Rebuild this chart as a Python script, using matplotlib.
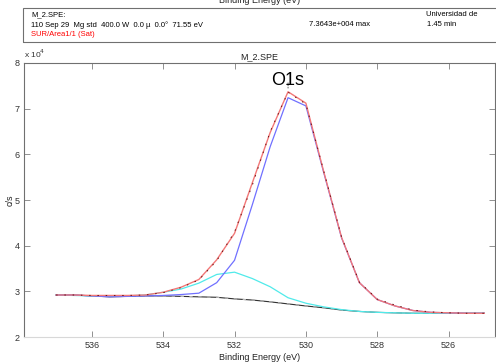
import numpy as np
import matplotlib
matplotlib.use('Agg')
import matplotlib.pyplot as plt
from matplotlib.patches import Rectangle

plt.rcParams['font.family'] = ['Liberation Sans', 'DejaVu Sans']

# binding energy grid (eV), values in units of 1e4 c/s
be = [537.0, 536.5, 536.0, 535.5, 535.0, 534.5, 534.0, 533.5, 533.0, 532.5,
      532.0, 531.5, 531.0, 530.5, 530.0, 529.5, 529.0, 528.5, 528.0, 527.5,
      527.0, 526.5, 526.0, 525.5, 525.0]
raw = [2.92, 2.92, 2.91, 2.91, 2.91, 2.92, 2.97, 3.08, 3.25, 3.67,
       4.30, 5.33, 6.50, 7.36, 7.10, 5.63, 4.19, 3.20, 2.83, 2.70,
       2.59, 2.55, 2.53, 2.52, 2.52]
envelope = [2.92, 2.92, 2.91, 2.91, 2.91, 2.92, 2.98, 3.09, 3.26, 3.69,
            4.27, 5.38, 6.48, 7.37, 7.12, 5.62, 4.18, 3.19, 2.82, 2.68,
            2.58, 2.54, 2.53, 2.52, 2.52]
peak_main = [2.92, 2.92, 2.90, 2.88, 2.89, 2.90, 2.91, 2.93, 2.96, 3.19,
             3.68, 4.90, 6.17, 7.24, 7.06, 5.60, 4.17, 3.19, 2.82, 2.68,
             2.58, 2.54, 2.53, 2.52, 2.52]
peak_oh = [2.92, 2.91, 2.90, 2.89, 2.90, 2.92, 2.98, 3.05, 3.18, 3.37,
           3.42, 3.28, 3.10, 2.86, 2.74, 2.66, 2.60, 2.56, 2.54, 2.53,
           2.52, 2.52, 2.52, 2.52, 2.52]
background = [2.92, 2.92, 2.90, 2.88, 2.89, 2.90, 2.90, 2.89, 2.88, 2.87,
              2.835, 2.81, 2.77, 2.725, 2.68, 2.64, 2.59, 2.56, 2.54, 2.53,
              2.52, 2.52, 2.52, 2.52, 2.52]

xticks = [536, 534, 532, 530, 528, 526]
yticks = [2, 3, 4, 5, 6, 7, 8]

fig = plt.figure(figsize=(4.96, 3.62), dpi=100)
ax = fig.add_axes([0.0484, 0.069, 0.9496, 0.757])

ax.plot(be, background, color='#303030', lw=0.8)
ax.plot(be, background, color='#b8b8b8', lw=0.8, dashes=(3, 5))
ax.plot(be, peak_oh, color='#50eaea', lw=0.9)
ax.plot(be, peak_main, color='#7070ff', lw=0.9)
ax.plot(be, envelope, color='#f27878', lw=1.0)
ax.plot(be, raw, color='#6a1010', lw=0.7, dashes=(1.5, 7))

ax.set_xlim(537.9, 524.7)
ax.set_ylim(2, 8)
ax.set_xticks(xticks)
ax.set_yticks(yticks)
ax.tick_params(direction='in', length=4, width=0.7, colors='#909090',
               labelcolor='#333333', labelsize=6.5, top=True, right=True, pad=3)
for s in ['left', 'top', 'right']:
    ax.spines[s].set_color('#707070')
ax.spines['bottom'].set_color('#d8d8d8')

ax.set_xlabel('Binding Energy (eV)', fontsize=6.5, labelpad=2, color='#222222')
ax.set_ylabel('c/s', fontsize=6.5, labelpad=0, color='#222222')
ax.set_title('M_2.SPE', fontsize=6.5, pad=3, color='#222222')
ax.text(0.0, 1.01, r'x 10$^4$', transform=ax.transAxes, fontsize=6,
        ha='left', va='bottom', color='#333333')

# peak label
ipk = int(np.argmax(raw))
ax.annotate('O1s', xy=(be[ipk], raw[ipk] + 0.02), xytext=(be[ipk], raw[ipk] + 0.08),
            fontsize=13, ha='center', va='bottom',
            arrowprops=dict(arrowstyle='-', color='#444444', lw=0.6, ls=':'))

# header box
fig.patches.append(Rectangle((23 / 496, 1 - 42 / 362), 0.96, 34 / 362,
                             transform=fig.transFigure, fill=False,
                             edgecolor='#707070', lw=0.8))
fig.text(260 / 496, 0.998, 'Binding Energy (eV)', fontsize=6.5, ha='center',
         va='center', color='#222222')
fig.text(31 / 496, 1 - 15 / 362, 'M_2.SPE:', fontsize=5.5, va='center')
fig.text(31 / 496, 1 - 25 / 362,
         '110 Sep 29  Mg std  400.0 W  0.0 \u00b5  0.0\u00b0  71.55 eV',
         fontsize=5.5, va='center')
fig.text(31 / 496, 1 - 35 / 362, 'SUR/Area1/1 (Sat)', fontsize=5.5,
         va='center', color='red')
fig.text(309 / 496, 1 - 25 / 362, '7.3643e+004 max', fontsize=5.5, va='center')
fig.text(426 / 496, 1 - 15 / 362, 'Universidad de', fontsize=5.5, va='center')
fig.text(427 / 496, 1 - 25 / 362, '1.45 min', fontsize=5.5, va='center')

fig.savefig('out.png', dpi=100)
